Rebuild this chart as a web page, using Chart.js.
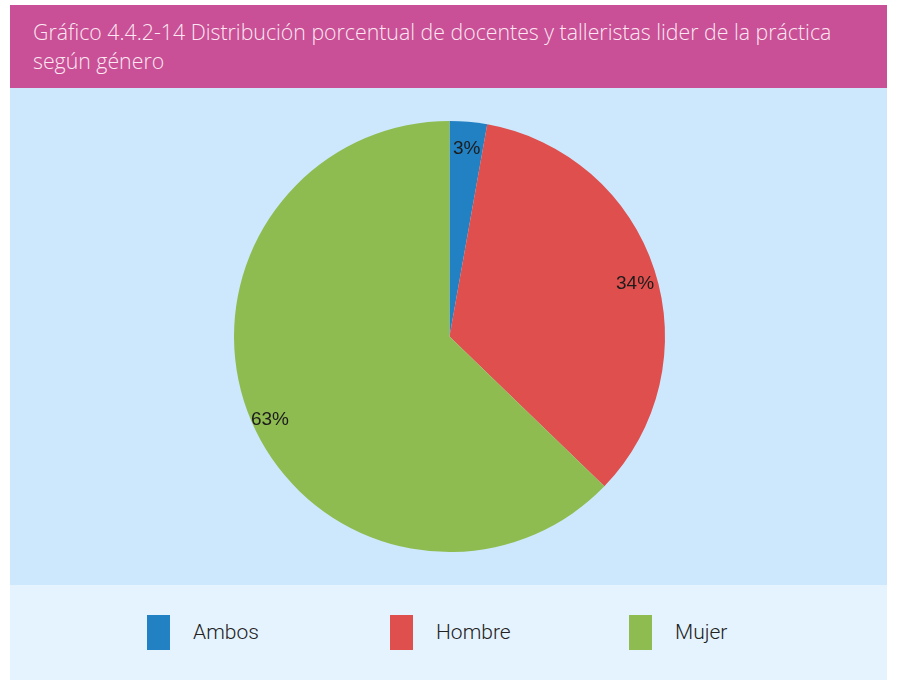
<!DOCTYPE html>
<html>
<head>
<meta charset="utf-8">
<script src="https://cdn.jsdelivr.net/npm/chart.js@4/dist/chart.umd.min.js"></script>
<style>
  body { margin: 0; background: #fff; width: 897px; height: 682px; position: relative; overflow: hidden; }
  #titulo {
    position: absolute; left: 10px; top: 5px; width: 854px; height: 83px;
    padding-left: 23px; background: #c94f96; color: #fbe8f2;
    font-family: "Open Sans", sans-serif; font-weight: 300; font-size: 21.3px; line-height: 29px;
  }
  #titulo div { padding-top: 12px; }
  #zona { position: absolute; left: 10px; top: 88px; width: 877px; height: 497px; background: #cde8fd; }
  #leyenda { position: absolute; left: 10px; top: 585px; width: 877px; height: 95px; background: #e5f3fe; }
  .item { position: absolute; top: 30px; height: 35px; }
  .item span.caja { position: absolute; left: 0; top: 0; width: 23px; height: 35px; }
  .item span.txt { position: absolute; left: 46px; top: 5px; white-space: nowrap;
    font-family: Roboto, sans-serif; font-weight: 300; font-size: 21px; color: #222; }
</style>
</head>
<body>
<div id="titulo"><div>Gráfico 4.4.2-14 Distribución porcentual de docentes y talleristas lider de la práctica<br>según género</div></div>
<div id="zona"><canvas id="pie"></canvas></div>
<div id="leyenda"></div>
<script>
// datos
const categorias = ['Ambos', 'Hombre', 'Mujer'];
const porcentajes = [2.8, 34.4, 62.7];
const colores = ['#2281c2', '#de4f4d', '#8fbc51'];

// leyenda en columnas
const leyenda = document.getElementById('leyenda');
const columnasX = [137, 380, 619];
categorias.forEach((c, i) => {
  const d = document.createElement('div');
  d.className = 'item';
  d.style.left = columnasX[i] + 'px';
  d.innerHTML = `<span class="caja" style="background:${colores[i]}"></span><span class="txt">${c}</span>`;
  leyenda.appendChild(d);
});

// etiquetas dentro del pastel
const etiquetas = {
  id: 'etiquetas',
  afterDatasetsDraw(chart) {
    const ctx = chart.ctx;
    const meta = chart.getDatasetMeta(0);
    ctx.save();
    ctx.font = '19px "Liberation Sans", Arial, sans-serif';
    ctx.fillStyle = '#1c1c1c';
    ctx.textAlign = 'center';
    ctx.textBaseline = 'middle';
    meta.data.forEach((arc, i) => {
      const mid = (arc.startAngle + arc.endAngle) / 2;
      const r = arc.outerRadius * 0.905;
      const x = arc.x + Math.cos(mid) * r;
      const y = arc.y + Math.sin(mid) * r + 7;
      ctx.fillText(Math.round(porcentajes[i]) + '%', x, y);
    });
    ctx.restore();
  }
};

new Chart(document.getElementById('pie'), {
  type: 'pie',
  data: {
    labels: categorias,
    datasets: [{ data: porcentajes, backgroundColor: colores, borderWidth: 0 }]
  },
  options: {
    responsive: true,
    maintainAspectRatio: false,
    animation: false,
    layout: { padding: { top: 33, bottom: 33, left: 2 } },
    plugins: { legend: { display: false }, tooltip: { enabled: false } }
  },
  plugins: [etiquetas]
});
</script>
</body>
</html>
